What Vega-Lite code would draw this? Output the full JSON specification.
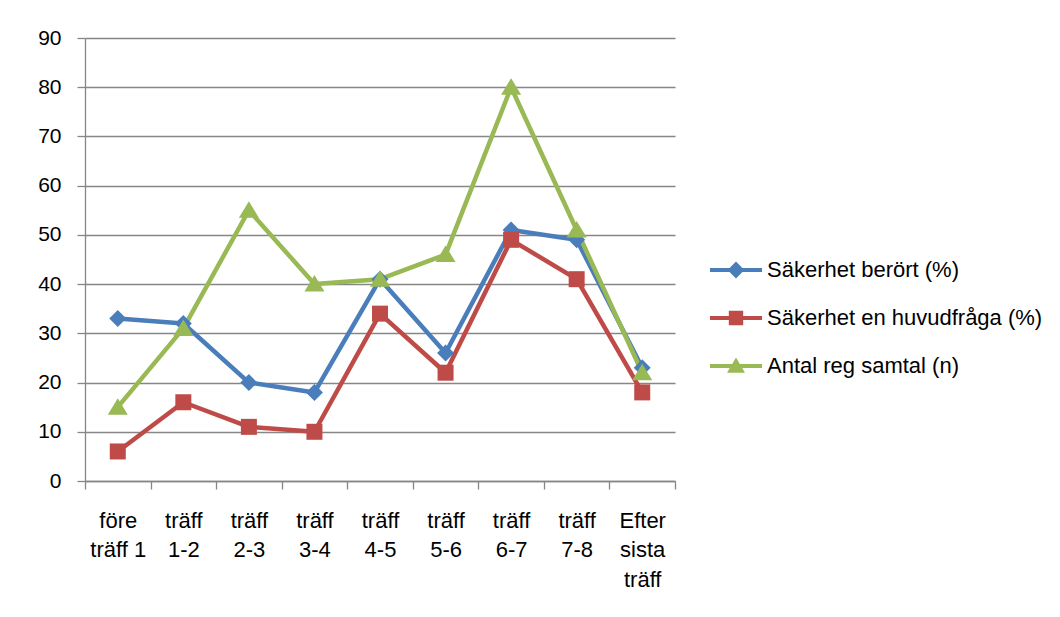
{
  "$schema": "https://vega.github.io/schema/vega-lite/v6.json",
  "width": 590,
  "height": 443,
  "autosize": {"type": "none"},
  "padding": {"left": 85, "top": 38, "right": 385, "bottom": 136},
  "background": "white",
  "config": {
    "view": {"stroke": null},
    "font": "Liberation Sans",
    "axis": {
      "labelFont": "Liberation Sans",
      "labelFontSize": 20,
      "labelColor": "#000000",
      "domainColor": "#868686",
      "domainWidth": 1.3,
      "tickColor": "#868686",
      "tickWidth": 1.3,
      "gridColor": "#868686",
      "gridWidth": 1.3,
      "title": null
    }
  },
  "data": {
    "values": [
      {"kategori": "före|träff 1", "serie": "Säkerhet berört (%)", "varde": 33},
      {"kategori": "träff|1-2", "serie": "Säkerhet berört (%)", "varde": 32},
      {"kategori": "träff|2-3", "serie": "Säkerhet berört (%)", "varde": 20},
      {"kategori": "träff|3-4", "serie": "Säkerhet berört (%)", "varde": 18},
      {"kategori": "träff|4-5", "serie": "Säkerhet berört (%)", "varde": 41},
      {"kategori": "träff|5-6", "serie": "Säkerhet berört (%)", "varde": 26},
      {"kategori": "träff|6-7", "serie": "Säkerhet berört (%)", "varde": 51},
      {"kategori": "träff|7-8", "serie": "Säkerhet berört (%)", "varde": 49},
      {"kategori": "Efter|sista|träff", "serie": "Säkerhet berört (%)", "varde": 23},
      {"kategori": "före|träff 1", "serie": "Säkerhet en huvudfråga (%)", "varde": 6},
      {"kategori": "träff|1-2", "serie": "Säkerhet en huvudfråga (%)", "varde": 16},
      {"kategori": "träff|2-3", "serie": "Säkerhet en huvudfråga (%)", "varde": 11},
      {"kategori": "träff|3-4", "serie": "Säkerhet en huvudfråga (%)", "varde": 10},
      {"kategori": "träff|4-5", "serie": "Säkerhet en huvudfråga (%)", "varde": 34},
      {"kategori": "träff|5-6", "serie": "Säkerhet en huvudfråga (%)", "varde": 22},
      {"kategori": "träff|6-7", "serie": "Säkerhet en huvudfråga (%)", "varde": 49},
      {"kategori": "träff|7-8", "serie": "Säkerhet en huvudfråga (%)", "varde": 41},
      {"kategori": "Efter|sista|träff", "serie": "Säkerhet en huvudfråga (%)", "varde": 18},
      {"kategori": "före|träff 1", "serie": "Antal reg samtal (n)", "varde": 15},
      {"kategori": "träff|1-2", "serie": "Antal reg samtal (n)", "varde": 31},
      {"kategori": "träff|2-3", "serie": "Antal reg samtal (n)", "varde": 55},
      {"kategori": "träff|3-4", "serie": "Antal reg samtal (n)", "varde": 40},
      {"kategori": "träff|4-5", "serie": "Antal reg samtal (n)", "varde": 41},
      {"kategori": "träff|5-6", "serie": "Antal reg samtal (n)", "varde": 46},
      {"kategori": "träff|6-7", "serie": "Antal reg samtal (n)", "varde": 80},
      {"kategori": "träff|7-8", "serie": "Antal reg samtal (n)", "varde": 51},
      {"kategori": "Efter|sista|träff", "serie": "Antal reg samtal (n)", "varde": 22}
    ]
  },
  "encoding": {
    "x": {
      "field": "kategori",
      "type": "ordinal",
      "sort": null,
      "scale": {"type": "band", "paddingInner": 0, "paddingOuter": 0},
      "axis": {
        "labelAngle": 0,
        "tickBand": "extent",
        "tickSize": 8,
        "labelPadding": 21,
        "labelFontSize": 22,
        "labelLineHeight": 29.5,
        "labelBaseline": "top",
        "labelExpr": "split(datum.label, '|')"
      }
    },
    "y": {
      "field": "varde",
      "type": "quantitative",
      "scale": {"domain": [0, 90], "nice": false},
      "axis": {
        "values": [0, 10, 20, 30, 40, 50, 60, 70, 80, 90],
        "tickSize": 8,
        "labelPadding": 16,
        "labelFontSize": 21
      }
    }
  },
  "resolve": {"legend": {"color": "independent", "shape": "independent"}},
  "layer": [
    {
      "mark": {"type": "line", "strokeWidth": 4.5, "strokeJoin": "round"},
      "encoding": {
        "color": {
          "field": "serie",
          "type": "nominal",
          "scale": {
            "domain": ["Säkerhet berört (%)", "Säkerhet en huvudfråga (%)", "Antal reg samtal (n)"],
            "range": ["#4A7EBB", "#BE4B48", "#98B954"]
          },
          "legend": {
            "title": null,
            "orient": "none",
            "legendX": 631,
            "legendY": 212,
            "symbolSize": 1600,
            "symbolStrokeWidth": 0,
            "labelFont": "Liberation Sans",
            "labelFontSize": 22,
            "labelColor": "#000000",
            "labelLimit": 0,
            "labelOffset": 11,
            "rowPadding": 17,
            "encode": {
              "symbols": {
                "update": {
                  "shape": {"signal": "datum.value === 'Säkerhet berört (%)' ? 'M-1.3,-0.1 H1.3 V0.1 H-1.3 Z M0,-0.42 L0.42,0 L0,0.42 L-0.42,0 Z' : datum.value === 'Säkerhet en huvudfråga (%)' ? 'M-1.3,-0.1 H1.3 V0.1 H-1.3 Z M-0.36,-0.36 H0.36 V0.36 H-0.36 Z' : 'M-1.3,-0.1 H1.3 V0.1 H-1.3 Z M0,-0.42 L0.45,0.34 L-0.45,0.34 Z'"},
                  "fill": {"scale": "color", "field": "value"},
                  "strokeWidth": {"value": 0}
                }
              }
            }
          }
        }
      }
    },
    {
      "mark": {"type": "point", "filled": true, "size": 400, "opacity": 1},
      "encoding": {
        "color": {"field": "serie", "type": "nominal", "legend": null},
        "shape": {
          "field": "serie",
          "type": "nominal",
          "legend": null,
          "scale": {
            "domain": ["Säkerhet berört (%)", "Säkerhet en huvudfråga (%)", "Antal reg samtal (n)"],
            "range": [
              "M0,-0.85 L0.85,0 L0,0.85 L-0.85,0 Z",
              "M-0.8,-0.8 H0.8 V0.8 H-0.8 Z",
              "M0,-0.9 L1,0.75 L-1,0.75 Z"
            ]
          }
        }
      }
    }
  ]
}
